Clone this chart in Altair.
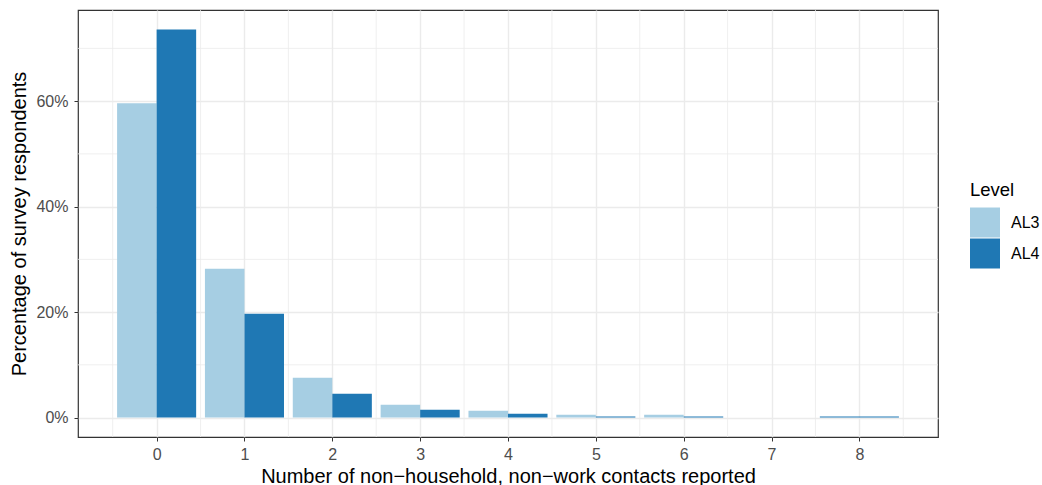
import altair as alt
import pandas as pd

# Share of respondents by number of non-household, non-work contacts
contacts = [0, 1, 2, 3, 4, 5, 6, 7, 8]
al3_pct = [59.6, 28.2, 7.55, 2.45, 1.3, 0.55, 0.55, None, None]
al4_pct = [73.6, 19.7, 4.5, 1.5, 0.75, 0.2, 0.2, None, 0.2]
levels = ["AL3", "AL4"]
level_colors = ["#A6CEE3", "#1F78B4"]

y_ticks = [0, 20, 40, 60]
y_minor = [10, 30, 50, 70]
x_minor = [-0.5, 0.5, 1.5, 2.5, 3.5, 4.5, 5.5, 6.5, 7.5, 8.5]

FONT = "Liberation Sans"
DODGE_WIDTH = 0.9
X_TITLE = "Number of non\u2212household, non\u2212work contacts reported"
Y_TITLE = "Percentage of survey respondents"

# Dodge the bars within each contact count (full width when only one level is present)
rows = []
for i, c in enumerate(contacts):
    present = [(lvl, vals[i]) for lvl, vals in zip(levels, [al3_pct, al4_pct]) if vals[i] is not None]
    if not present:
        continue
    w = DODGE_WIDTH / len(present)
    start = c - DODGE_WIDTH / 2
    for k, (lvl, v) in enumerate(present):
        rows.append({"contacts": c, "level": lvl, "pct": v,
                     "x0": start + k * w, "x1": start + (k + 1) * w})
bars_df = pd.DataFrame(rows)

ymax = max(v for v in al3_pct + al4_pct if v is not None)
x_scale = alt.Scale(domain=[-0.895, 8.895], nice=False, zero=False)
y_scale = alt.Scale(domain=[-0.05 * ymax, 1.05 * ymax], nice=False, zero=False)

grid_color = "#EBEBEB"

x_axis = alt.Axis(values=contacts, format="d", grid=True, gridColor=grid_color,
                  gridWidth=1.4, domain=False, tickColor="#333333", tickSize=4,
                  labelColor="#4D4D4D", labelFontSize=16, labelPadding=5,
                  titleFontSize=20, titleFontWeight="normal", titleColor="black",
                  titlePadding=4, labelFont=FONT, titleFont=FONT)
y_axis = alt.Axis(values=y_ticks, labelExpr="datum.value + '%'", grid=True,
                  gridColor=grid_color, gridWidth=1.4, domain=False,
                  tickColor="#333333", tickSize=4, labelColor="#4D4D4D",
                  labelFontSize=16, labelPadding=6, titleFontSize=20,
                  titleFontWeight="normal", titleColor="black", titlePadding=6,
                  labelFont=FONT, titleFont=FONT)

minor_x = alt.Chart(pd.DataFrame({"v": x_minor})).mark_rule(
    color=grid_color, strokeWidth=0.8
).encode(x=alt.X("v:Q", scale=x_scale, axis=x_axis, title=X_TITLE))

minor_y = alt.Chart(pd.DataFrame({"v": y_minor})).mark_rule(
    color=grid_color, strokeWidth=0.8
).encode(y=alt.Y("v:Q", scale=y_scale, axis=y_axis, title=Y_TITLE))

bars = alt.Chart(bars_df).mark_bar().encode(
    x=alt.X("x0:Q", scale=x_scale, axis=x_axis, title=X_TITLE),
    x2="x1:Q",
    y=alt.Y("pct:Q", scale=y_scale, axis=y_axis, title=Y_TITLE),
    y2=alt.datum(0),
    color=alt.Color("level:N", scale=alt.Scale(domain=levels, range=level_colors),
                    legend=alt.Legend(title="Level", orient="none", legendX=892, legendY=171,
                                      symbolType="square", symbolSize=900,
                                      symbolStrokeWidth=0, symbolOpacity=1,
                                      titleFontSize=18.5, titleFontWeight="normal",
                                      titleFont=FONT, titleColor="black", titlePadding=8,
                                      labelFont=FONT, labelFontSize=16, labelColor="black",
                                      labelOffset=11, rowPadding=1)),
)

chart = alt.layer(minor_x, minor_y, bars).properties(
    width=860,
    height=427,
    background="white",
    autosize=alt.AutoSizeParams(type="none"),
    padding={"left": 78, "top": 10, "right": 104, "bottom": 48},
).configure_view(
    stroke="#333333", strokeWidth=1.2
)

chart.save("out.html", embed_options={"renderer": "svg", "actions": False})
